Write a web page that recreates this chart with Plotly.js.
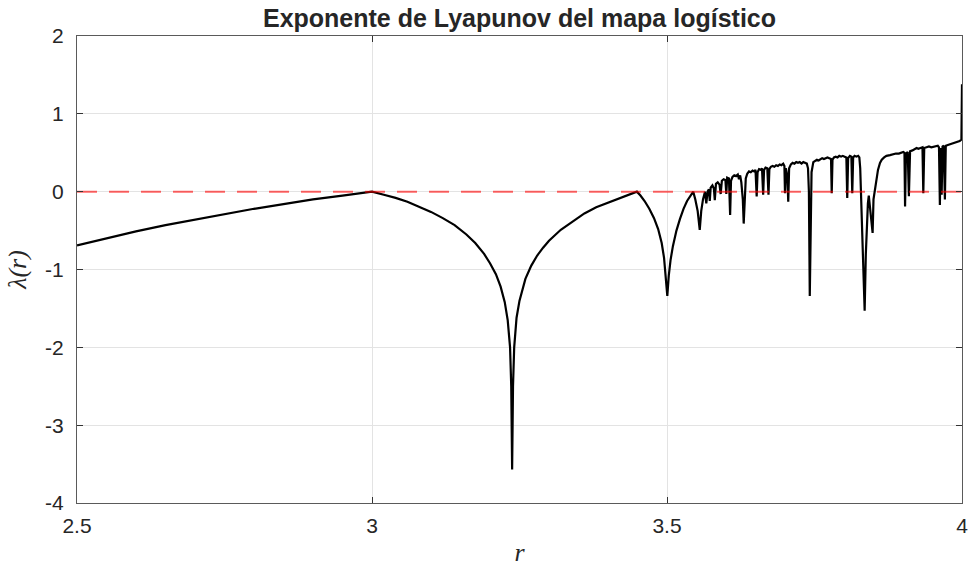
<!DOCTYPE html>
<html>
<head>
<meta charset="utf-8">
<script src="https://cdn.plot.ly/plotly-3.0.1.min.js"></script>
<style>html,body{margin:0;padding:0;background:#fff}#chart{width:971px;height:569px}</style>
</head>
<body>
<div id="chart"></div>
<script>
// Values (r, lambda)
const rValues = [
  2.50,2.55,2.60,2.65,2.70,2.75,2.80,2.85,2.90,2.95,2.975,3.00,
  3.02,3.04,3.06,3.08,3.10,3.12,3.14,3.16,3.175,3.19,3.20,3.21,3.218,3.225,3.23,3.234,3.236,3.2375,3.239,3.241,3.245,3.25,3.255,
  3.26,3.27,3.28,3.29,3.30,3.32,3.34,3.36,3.38,3.40,3.42,3.435,3.449,
  3.455,3.462,3.47,3.478,3.485,3.491,3.495,3.498,3.5005,3.503,3.506,3.51,3.516,3.522,3.528,3.534,3.540,3.5445,
  3.548,3.552,3.5555,3.558,3.561,3.5644,3.5666,3.5688,
  3.5710,3.5725,3.5740,3.5770,3.5795,3.5810,3.5830,3.5860,3.5890,3.5910,3.5930,3.5960,3.5990,3.6005,3.6020,3.6050,3.6070,3.6085,
  3.6110,3.6140,3.6170,3.6200,3.6220,3.6240,3.6260,3.6285,3.6300,3.6315,3.6335,3.6360,3.6390,3.6420,3.6450,3.6480,3.6500,
  3.6520,3.6535,3.6560,3.6590,3.6610,3.6630,3.6645,3.6670,3.6700,3.6720,3.6735,3.6760,3.6790,3.6820,3.6850,3.6880,3.6910,
  3.6940,3.6970,3.6990,3.7000,3.7015,3.7040,3.7055,3.7070,3.7100,3.7130,3.7160,3.7190,3.7220,3.7250,3.7280,3.7310,3.7340,
  3.7370,3.7390,3.7405,3.7420,3.7435,3.7450,3.7480,3.7510,3.7540,3.7570,3.7600,3.7630,3.7660,3.7690,3.7720,3.7750,3.7780,
  3.7792,3.7805,3.7830,3.7860,3.7890,3.7920,3.7950,3.7980,3.8010,3.8040,3.8055,3.8070,3.8100,3.8125,3.8140,3.8155,3.8180,
  3.8210,3.8240,3.8260,3.8275,3.8290,3.8310,3.8330,3.8350,3.8370,3.8390,3.8405,3.8420,3.8440,3.8465,3.8485,3.8500,3.8525,
  3.8550,3.8576,3.8610,3.8640,3.8680,3.8720,3.8780,3.8830,3.8880,3.8930,3.8970,3.9005,3.9025,3.9035,3.9050,3.9080,3.9100,
  3.9120,3.9160,3.9200,3.9230,3.9260,3.9290,3.9330,3.9344,3.9360,3.9400,3.9440,3.9480,3.9520,3.9560,3.9590,3.9610,3.9625,
  3.9640,3.9655,3.9670,3.9690,3.9710,3.9725,3.9760,3.9800,3.9840,3.9880,3.9920,3.9960,3.9990,4.0000
];
const lambdaValues = [
  -0.69,-0.60,-0.51,-0.43,-0.36,-0.29,-0.22,-0.16,-0.10,-0.05,-0.025,0.00,
  -0.04,-0.08,-0.13,-0.19,-0.26,-0.34,-0.43,-0.55,-0.66,-0.80,-0.92,-1.06,-1.22,-1.42,-1.65,-2.00,-2.50,-3.57,-2.50,-2.00,-1.62,-1.40,-1.24,
  -1.12,-0.95,-0.82,-0.72,-0.63,-0.49,-0.38,-0.28,-0.20,-0.14,-0.08,-0.04,0.00,
  -0.05,-0.12,-0.22,-0.34,-0.48,-0.66,-0.85,-1.08,-1.34,-1.08,-0.88,-0.70,-0.50,-0.35,-0.22,-0.12,-0.05,0.00,
  -0.10,-0.25,-0.49,-0.25,-0.10,0.00,-0.15,0.00,
  0.03,-0.12,0.05,0.08,0.04,-0.11,0.10,0.12,0.09,-0.03,0.14,0.16,0.15,-0.03,0.18,0.17,-0.30,0.14,
  0.19,0.21,0.20,0.22,0.16,0.21,0.12,-0.10,-0.41,-0.02,0.17,0.23,0.26,0.25,0.27,0.26,0.28,
  -0.06,0.25,0.29,0.28,0.30,-0.04,0.28,0.31,0.30,-0.04,0.29,0.32,0.33,0.32,0.34,0.33,0.35,
  0.34,0.36,0.33,-0.02,0.30,0.20,-0.13,0.30,0.35,0.37,0.36,0.38,0.37,0.38,0.36,0.38,0.37,
  0.36,0.30,0.00,-1.34,-0.10,0.25,0.38,0.40,0.41,0.40,0.42,0.43,0.42,0.43,0.44,0.43,0.42,
  -0.02,0.41,0.44,0.45,0.44,0.46,0.45,0.46,0.45,0.44,-0.08,0.43,0.46,0.45,-0.02,0.44,0.46,
  0.45,0.46,0.44,0.30,-0.10,-0.60,-1.00,-1.53,-0.80,-0.30,-0.15,-0.05,-0.20,-0.30,-0.53,-0.10,0.02,
  0.15,0.28,0.37,0.41,0.44,0.46,0.47,0.48,0.49,0.49,0.50,0.51,0.50,-0.19,0.49,0.51,-0.06,
  0.52,0.53,0.55,0.56,0.55,0.56,0.57,-0.02,0.56,0.57,0.58,0.57,0.58,0.58,0.59,0.57,-0.17,
  0.56,-0.04,0.58,0.59,-0.10,0.59,0.60,0.61,0.62,0.62,0.63,0.65,0.67,1.38
];
const refX = [2.5, 4];
const refY = [0, 0];
const xTicks = [2.5, 3, 3.5, 4];
const xTickText = ['2.5', '3', '3.5', '4'];
const yTicks = [-4, -3, -2, -1, 0, 1, 2];
const yTickText = ['-4', '-3', '-2', '-1', '0', '1', '2'];

const traces = [
  {x: rValues, y: lambdaValues, type: 'scatter', mode: 'lines',
   line: {color: '#000000', width: 2.2, shape: 'linear'}, hoverinfo: 'x+y', showlegend: false},
  {x: refX, y: refY, type: 'scatter', mode: 'lines',
   line: {color: 'rgba(255,0,0,0.6)', width: 2, dash: '20px,12px'}, showlegend: false}
];

const axisCommon = {
  showgrid: true, gridcolor: '#e3e3e3', gridwidth: 1,
  zeroline: false, showline: true, linecolor: '#5a5a5a', linewidth: 1.2,
  mirror: 'ticks', ticks: 'inside', ticklen: 6, tickcolor: '#333', tickwidth: 1,
  tickfont: {family: 'Liberation Sans, Arial, sans-serif', size: 21, color: '#262626'}
};

const layout = {
  width: 971, height: 569,
  margin: {l: 77, r: 9, t: 36, b: 66},
  paper_bgcolor: '#ffffff', plot_bgcolor: '#ffffff',
  title: {text: '<b>Exponente de Lyapunov del mapa logístico</b>',
          font: {family: 'Liberation Sans, Arial, sans-serif', size: 25, color: '#262626'},
          x: 0.535, xanchor: 'center', y: 0.968, yanchor: 'middle'},
  xaxis: Object.assign({}, axisCommon, {
    range: [2.5, 4], tickvals: xTicks, ticktext: xTickText, ticklabelstandoff: 4,
    title: {text: 'r', standoff: 6,
            font: {family: 'Liberation Serif, Times New Roman, serif', size: 26, color: '#262626', style: 'italic'}}
  }),
  yaxis: Object.assign({}, axisCommon, {
    range: [-4, 2], tickvals: yTicks, ticktext: yTickText, ticklabelstandoff: 8,
    title: {text: 'λ(r)', standoff: 10,
            font: {family: 'Liberation Serif, Times New Roman, serif', size: 26, color: '#262626', style: 'italic'}}
  })
};

Plotly.newPlot('chart', traces, layout, {displayModeBar: false, staticPlot: true});
</script>
</body>
</html>
